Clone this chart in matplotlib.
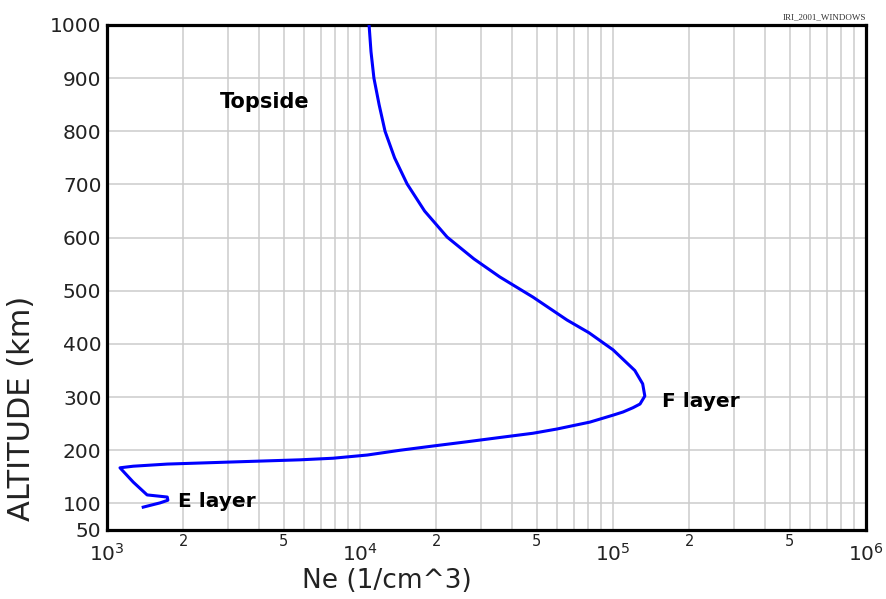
import matplotlib.pyplot as plt
import numpy as np

# electron density profile (altitude in km, Ne in 1/cm^3)
altitude = [93, 101, 106, 112, 116, 140, 167, 170, 174, 178, 182, 185, 191,
            200, 208, 216, 224, 232, 240, 253, 266, 272, 280, 287, 302,
            325, 350, 389, 421, 445, 488, 526, 560, 601, 650, 701, 750,
            800, 850, 900, 950, 1000]
ne = [1390, 1620, 1740, 1730, 1440, 1270, 1125, 1270, 1730, 3150, 5790, 7820,
      10670, 14400, 19450, 26500, 35700, 48300, 60100, 81100, 100000, 109600,
      119900, 127900, 133600, 131000, 122000, 100000, 80400, 65800, 48300,
      35700, 28200, 22100, 18000, 15350, 13700, 12560, 11900, 11350, 11050,
      10860]

y_ticks = [50, 100, 200, 300, 400, 500, 600, 700, 800, 900, 1000]
x_decades = [1e3, 1e4, 1e5, 1e6]
x_decade_labels = [r'$10^{3}$', r'$10^{4}$', r'$10^{5}$', r'$10^{6}$']

fig = plt.figure(figsize=(8.86, 5.99), dpi=100)
ax = fig.add_axes([0.1208, 0.1152, 0.8566, 0.8431])

ax.plot(ne, altitude, color='#0000ff', linewidth=2.2, zorder=3)

ax.set_xscale('log')
ax.set_xlim(1e3, 1e6)
ax.set_ylim(50, 1000)

# major x ticks: decades, minor: 2..9 with labels only at 2 and 5
ax.set_xticks(x_decades)
ax.set_xticklabels(x_decade_labels, fontsize=14.5)
minor = [m * d for d in x_decades[:-1] for m in range(2, 10)]
ax.set_xticks(minor, minor=True)
minor_labels = []
for v in minor:
    m = int(round(v / 10 ** np.floor(np.log10(v))))
    minor_labels.append(str(m) if m in (2, 5) else '')
ax.set_xticklabels(minor_labels, minor=True, fontsize=10.5)

ax.set_yticks(y_ticks)
ax.set_yticklabels([str(v) for v in y_ticks], fontsize=14.5)

ax.tick_params(axis='x', which='major', length=0, pad=9, colors='#222222')
ax.tick_params(axis='x', which='minor', length=0, pad=3, colors='#222222')
ax.tick_params(axis='y', length=0, pad=4, colors='#222222')

ax.grid(True, which='both', color='#cccccc', linewidth=1.1)
ax.set_axisbelow(True)

for s in ax.spines.values():
    s.set_linewidth(2.3)
    s.set_color('black')

ax.set_xlabel('Ne (1/cm^3)', fontsize=19, color='#222222')
ax.xaxis.set_label_coords(0.369, -0.075)
ax.set_ylabel('ALTITUDE (km)', fontsize=22, color='#222222')
ax.yaxis.set_label_coords(-0.093, 0.24)

# layer labels
ax.text(2800, 855, 'Topside', fontsize=15, fontweight='bold', ha='left', va='center')
ax.text(156000, 291, 'F layer', fontsize=14.5, fontweight='bold', ha='left', va='center')
ax.text(1910, 104, 'E layer', fontsize=14.5, fontweight='bold', ha='left', va='center')

ax.text(1.0, 1.008, 'IRI_2001_WINDOWS', transform=ax.transAxes, ha='right',
        va='bottom', fontsize=6.5, family='Liberation Serif', color='#333333')

plt.savefig('out.png', dpi=100)
plt.close()
